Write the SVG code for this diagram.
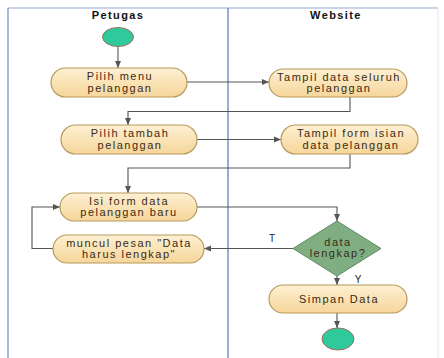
<svg xmlns="http://www.w3.org/2000/svg" width="444" height="358" viewBox="0 0 444 358">
<defs>
<linearGradient id="ng" x1="0" y1="0" x2="0" y2="1">
<stop offset="0" stop-color="#fdf0d2"/>
<stop offset="1" stop-color="#f6d69a"/>
</linearGradient>
<marker id="ah" markerWidth="8" markerHeight="8" refX="7" refY="4" orient="auto" markerUnits="userSpaceOnUse">
<path d="M0,1 L7,4 L0,7 Z" fill="#555"/>
</marker>
</defs>
<style>
.node{fill:url(#ng);stroke:#b89a5e;stroke-width:1.2}
.t{font-family:"Liberation Sans",Arial,sans-serif;font-size:11px;letter-spacing:1.5px;fill:#3b2a14;text-anchor:middle}
.h{font-family:"Liberation Sans",Arial,sans-serif;font-size:11px;letter-spacing:1.4px;font-weight:bold;fill:#111;text-anchor:middle}
.c{fill:none;stroke:#555;stroke-width:1.1;marker-end:url(#ah)}
.circ{fill:#2fca9c;stroke:#a0705a;stroke-width:1}
.lbl{font-family:"Liberation Sans",Arial,sans-serif;font-size:10px;fill:#222;text-anchor:middle}
</style>
<rect width="444" height="358" fill="#fff"/>
<g id="lanes">
<line x1="8" y1="8" x2="438" y2="8" stroke="#b7c4e6" stroke-width="1.5"/>
<line x1="8" y1="8" x2="8" y2="358" stroke="#6d8cc8" stroke-width="1.2"/>
<line x1="228" y1="8" x2="228" y2="358" stroke="#5576b8" stroke-width="1.2"/>
<line x1="438" y1="8" x2="438" y2="358" stroke="#e4e8f2" stroke-width="1"/>
<text class="h" x="118" y="19">Petugas</text>
<text class="h" x="336" y="19">Website</text>
</g>
<g id="connectors">
<path class="c" d="M118,47 V68"/>
<path class="c" d="M187,82 H269"/>
<path class="c" d="M350,97 V111.5 H128 V125"/>
<path class="c" d="M197,139.5 H281"/>
<path class="c" d="M350,154 V168 H128 V193"/>
<path class="c" d="M197,207 H337 V221"/>
<path class="c" d="M293,248.5 H204"/>
<path class="c" d="M53,248.5 H32 V207 H60"/>
<path class="c" d="M337,276 V285"/>
<path class="c" d="M337,313 V328"/>
<text class="lbl" x="272" y="242">T</text>
<text class="lbl" x="358" y="283">Y</text>
</g>
<g id="start"><ellipse class="circ" cx="118" cy="37" rx="15.5" ry="9.5"/></g>
<g id="n1"><rect class="node" x="51" y="68" width="136" height="29" rx="14.5"/>
<text class="t" x="120" y="80">Pilih menu</text><text class="t" x="120" y="92">pelanggan</text></g>
<g id="n2"><rect class="node" x="61" y="125" width="136" height="29" rx="14.5"/>
<text class="t" x="130" y="137">Pilih tambah</text><text class="t" x="130" y="149">pelanggan</text></g>
<g id="n3"><rect class="node" x="60" y="193" width="137" height="28" rx="14"/>
<text class="t" x="129" y="205">Isi form data</text><text class="t" x="129" y="216">pelanggan baru</text></g>
<g id="n4"><rect class="node" x="53" y="235" width="151" height="28" rx="14"/>
<text class="t" x="129" y="247">muncul pesan "Data</text><text class="t" x="129" y="258">harus lengkap"</text></g>
<g id="n5"><rect class="node" x="269" y="69" width="138" height="28" rx="14"/>
<text class="t" x="339" y="81">Tampil data seluruh</text><text class="t" x="339" y="92">pelanggan</text></g>
<g id="n6"><rect class="node" x="281" y="125" width="137" height="29" rx="14.5"/>
<text class="t" x="351" y="137">Tampil form isian</text><text class="t" x="351" y="149">data pelanggan</text></g>
<g id="decision"><polygon points="337,221 381,248.5 337,276 293,248.5" fill="#7fae82" stroke="#5e8c62" stroke-width="1"/>
<text class="t" x="338" y="246">data</text><text class="t" x="338" y="257">lengkap?</text></g>
<g id="n7"><rect class="node" x="269" y="285" width="138" height="28" rx="14"/>
<text class="t" x="339" y="303">Simpan Data</text></g>
<g id="end"><ellipse class="circ" cx="338" cy="339" rx="16" ry="11"/></g>
</svg>
